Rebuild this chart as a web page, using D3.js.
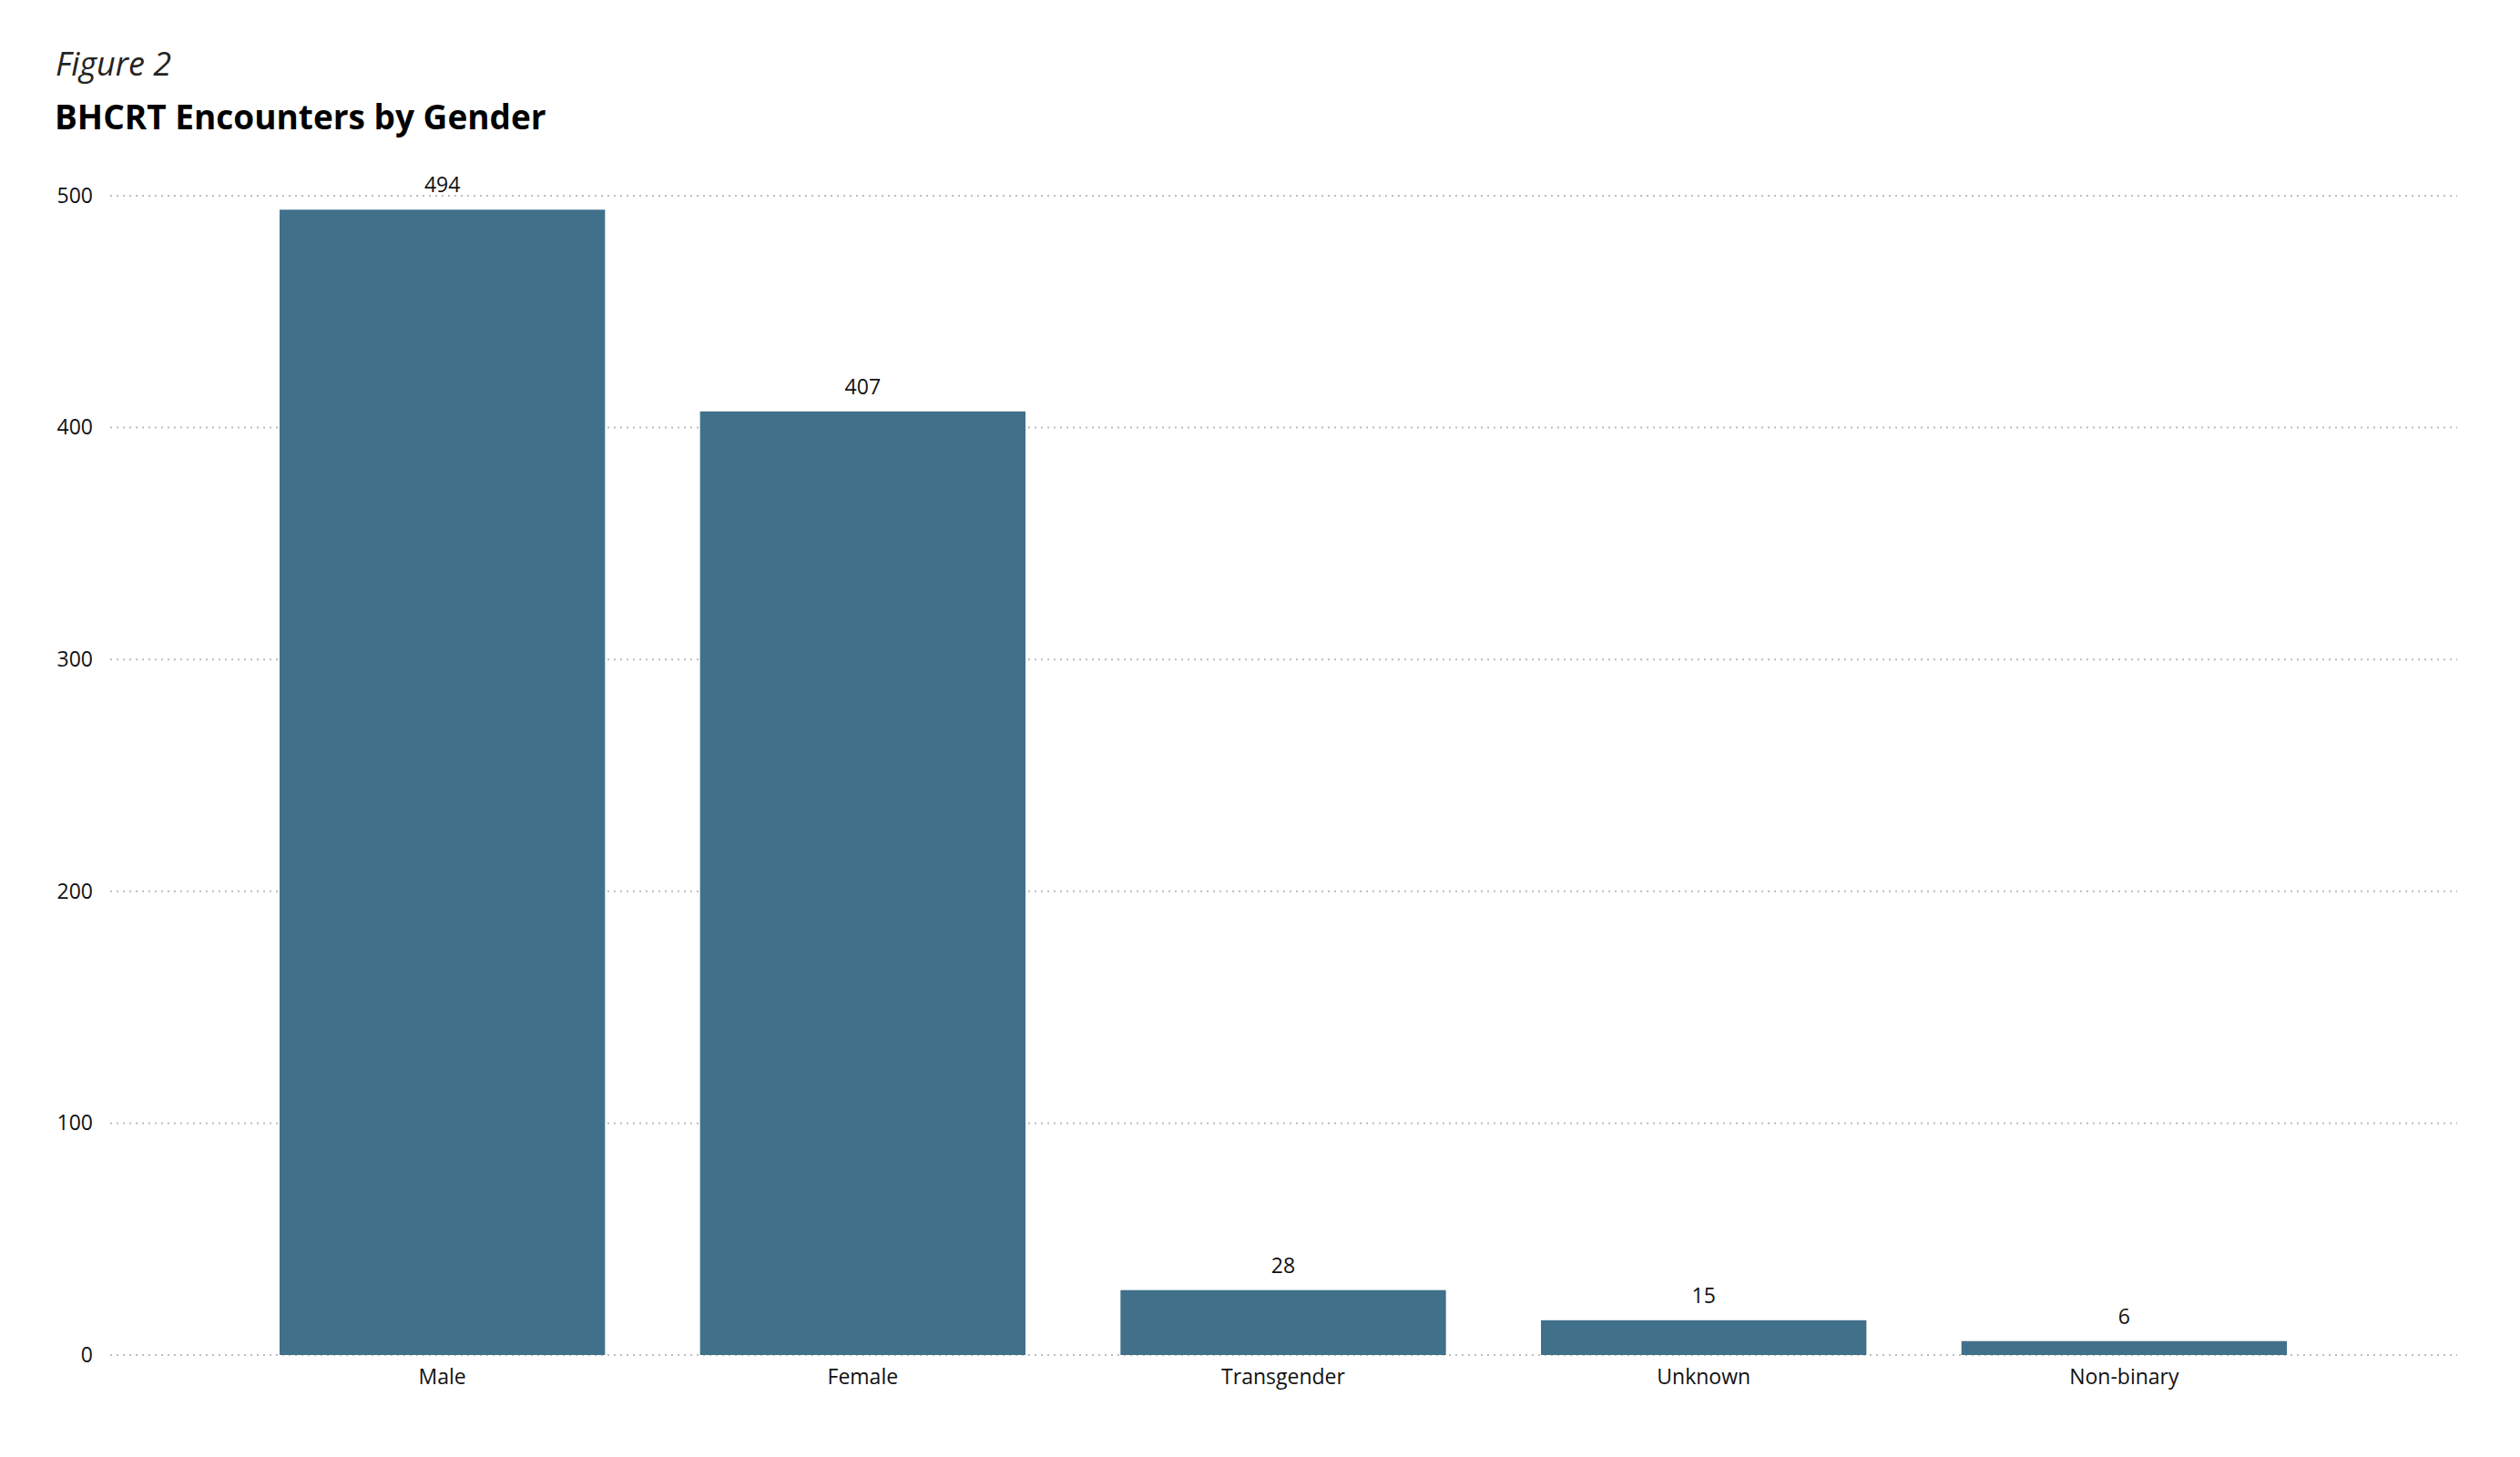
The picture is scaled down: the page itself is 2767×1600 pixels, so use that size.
<!DOCTYPE html>
<html>
<head>
<meta charset="utf-8">
<script src="https://cdn.jsdelivr.net/npm/d3@7"></script>
<style>
  body { margin: 0; background: #fff; }
  text { font-family: "Segoe UI", "Open Sans", sans-serif; }
</style>
</head>
<body>
<div id="chart"></div>
<script>
var categories = ["Male", "Female", "Transgender", "Unknown", "Non-binary"];
var values = [494, 407, 28, 15, 6];
var yTicks = [0, 100, 200, 300, 400, 500];

var width = 2767, height = 1600;

var svg = d3.select("#chart")
  .append("svg")
  .attr("width", width)
  .attr("height", height);

// titles
svg.append("text")
  .attr("x", 61)
  .attr("y", 83)
  .attr("font-size", 36)
  .attr("font-style", "italic")
  .attr("fill", "#252423")
  .text("Figure 2");

svg.append("text")
  .attr("x", 60)
  .attr("y", 142)
  .attr("font-size", 37)
  .attr("font-weight", "bold")
  .attr("fill", "#000")
  .text("BHCRT Encounters by Gender");

var x = d3.scaleBand()
  .domain(categories)
  .range([120, 2698])
  .paddingInner(0.226)
  .paddingOuter(0.405);

var y = d3.scaleLinear()
  .domain([0, 500])
  .range([1488, 215]);

// gridlines
svg.append("g")
  .selectAll("line")
  .data(yTicks)
  .enter()
  .append("line")
  .attr("x1", 121)
  .attr("x2", 2698)
  .attr("y1", function(d) { return y(d); })
  .attr("y2", function(d) { return y(d); })
  .attr("stroke", "#bdbdbd")
  .attr("stroke-width", 2)
  .attr("stroke-dasharray", "2,5");

// y axis labels
var yAxis = d3.axisLeft(y).tickValues(yTicks).tickSize(0).tickPadding(0);
var gy = svg.append("g")
  .attr("transform", "translate(102,0)")
  .call(yAxis);
gy.select(".domain").remove();
gy.selectAll("text")
  .attr("font-size", 23)
  .attr("fill", "#111")
  .style("font-family", "\"Segoe UI\", \"Open Sans\", sans-serif");

// bars
svg.append("g")
  .selectAll("rect")
  .data(values)
  .enter()
  .append("rect")
  .attr("x", function(d, i) { return x(categories[i]); })
  .attr("y", function(d) { return y(d); })
  .attr("width", x.bandwidth())
  .attr("height", function(d) { return y(0) - y(d); })
  .attr("fill", "#41708a");

// value labels
svg.append("g")
  .selectAll("text")
  .data(values)
  .enter()
  .append("text")
  .attr("x", function(d, i) { return x(categories[i]) + x.bandwidth() / 2; })
  .attr("y", function(d) { return y(d) - 19; })
  .attr("text-anchor", "middle")
  .attr("font-size", 23)
  .attr("fill", "#111")
  .text(function(d) { return d; });

// x axis labels
var xAxis = d3.axisBottom(x).tickSize(0).tickPadding(0);
var gx = svg.append("g")
  .attr("transform", "translate(0,1500)")
  .call(xAxis);
gx.select(".domain").remove();
gx.selectAll("text")
  .attr("font-size", 23)
  .attr("fill", "#111")
  .attr("dy", "0.85em")
  .style("font-family", "\"Segoe UI\", \"Open Sans\", sans-serif");
</script>
</body>
</html>
